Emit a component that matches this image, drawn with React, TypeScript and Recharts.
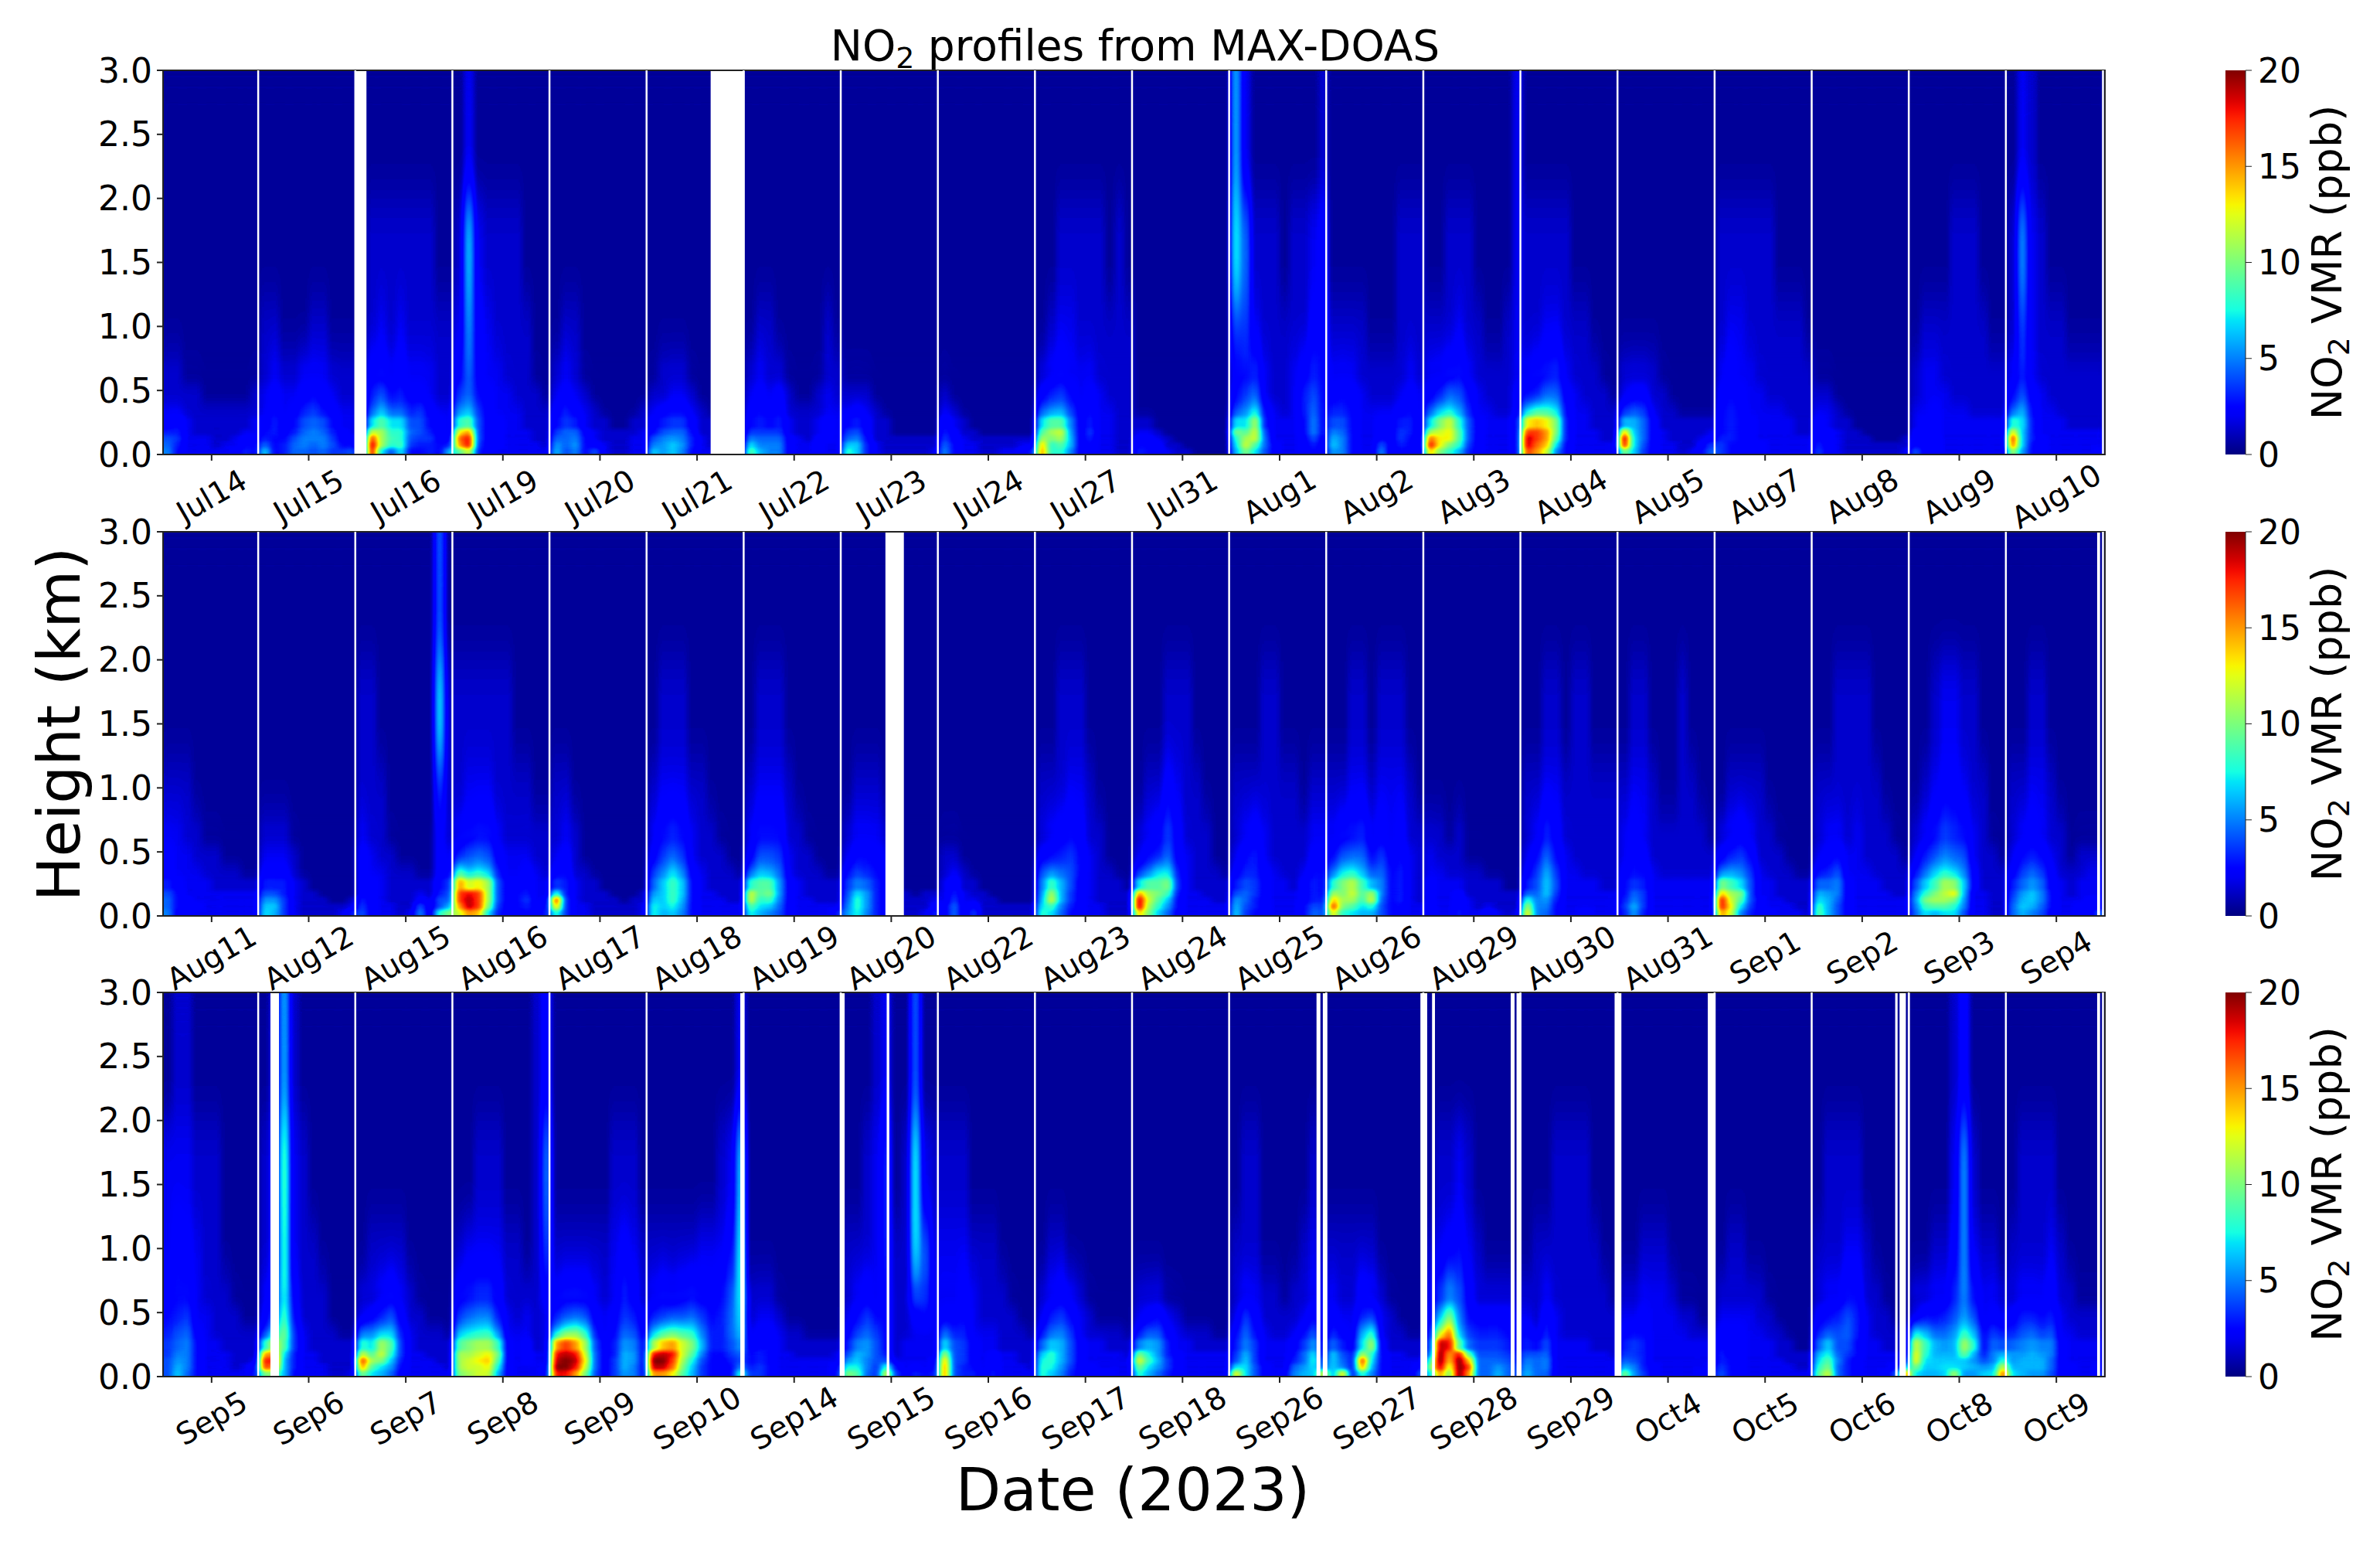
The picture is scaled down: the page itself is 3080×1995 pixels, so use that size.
import React from "react";
import {
  BarChart,
  Bar,
  Cell,
  ComposedChart,
  Line,
  XAxis,
  YAxis,
  ReferenceLine,
  ReferenceArea,
} from "recharts";

// Heat values are in half-ppb steps (40 = 20 ppb), 10 time columns per day.
// Rows run from the top height band down to the ground.
const bandEdges = [3, 2, 1.2, 0.8, 0.55, 0.4, 0.3, 0.2, 0.15, 0.1, 0.05, 0];
const q = [1, 1, 1, 1, 1, 1, 1, 1, 1, 1];

const jul14 = [q,q,q,[2,2,1,1,1,1,1,1,1,1],[2,2,2,2,1,1,1,1,1,2],[3,3,2,2,2,2,2,2,2,2],[4,5,3,2,2,2,2,2,2,3],[6,6,3,2,2,2,2,2,3,3],[8,7,3,3,3,2,2,3,4,4],[9,6,3,3,3,2,3,3,5,5],[10,5,3,3,3,3,3,4,6,5]];
const jul15 = [q,q,[2,2,1,1,1,2,2,1,1,1],[2,3,2,2,3,3,3,2,2,2],[3,4,3,3,4,5,4,3,2,2],[3,5,3,4,6,7,5,4,3,3],[4,6,4,5,8,9,8,5,3,3],[5,6,4,6,9,10,9,6,4,3],[6,5,5,8,10,10,10,7,4,4],[9,5,6,9,10,9,10,8,5,5],[13,5,6,9,9,8,9,7,7,8]];
const jul16 = [q,[1,2,2,2,2,2,2,2,1,1],[1,2,3,2,3,2,2,2,2,2],[1,4,4,3,4,3,3,3,2,2],[1,6,8,5,6,4,4,3,2,2],[1,8,12,8,8,6,7,4,3,3],[1,14,18,14,14,8,8,5,4,3],[1,24,22,16,16,9,8,6,4,3],[1,34,22,17,16,8,7,7,4,4],[1,38,22,16,17,7,6,6,5,6],[1,36,14,8,14,5,5,6,5,12]];
const jul19 = [[1,3,1,1,1,1,1,1,1,1],[2,12,3,2,2,2,2,1,1,1],[3,10,4,3,2,2,2,2,1,1],[4,9,4,3,3,2,2,2,1,1],[7,9,5,4,3,3,2,2,2,1],[10,12,7,4,3,3,3,2,2,2],[16,18,8,4,4,3,3,2,2,2],[26,30,8,4,4,3,3,3,2,2],[32,36,8,4,4,3,3,3,2,2],[30,36,7,4,4,3,3,3,3,2],[18,24,6,4,3,3,3,3,3,3]];
const jul20 = [q,q,[1,2,2,1,1,1,1,1,1,1],[2,3,2,1,1,1,1,1,1,1],[3,4,3,2,1,1,1,1,1,1],[4,6,4,3,2,1,1,1,1,2],[5,7,6,3,2,2,1,1,2,2],[7,9,9,4,3,2,2,2,2,3],[9,9,10,5,3,2,2,2,3,3],[11,9,11,5,4,3,2,2,3,3],[12,8,10,5,8,3,2,2,3,3]];
const jul21 = [q,q,q,[1,2,2,2,1,1,1,1,1,1],[2,2,3,3,2,1,1,1,1,1],[3,4,5,5,3,2,1,1,1,1],[4,6,7,7,4,2,2,1,1,1],[5,8,9,9,5,2,2,1,1,1],[8,10,11,10,6,3,2,1,1,1],[10,11,13,11,6,3,2,1,1,1],[13,11,13,10,5,3,3,1,1,1]];
const jul22 = [q,q,[1,2,2,1,1,1,1,1,2,1],[2,3,2,2,1,1,1,1,2,2],[3,4,3,4,2,1,1,2,3,2],[4,5,4,5,2,2,2,2,3,3],[5,6,5,6,3,2,2,3,4,3],[7,7,7,7,3,2,2,3,4,3],[10,9,9,9,4,3,2,4,4,3],[14,10,10,10,4,3,3,4,3,3],[18,12,10,10,4,3,3,4,3,3]];
const jul23 = [q,q,q,q,[2,2,2,1,1,1,1,1,1,1],[3,4,3,2,1,1,1,1,1,1],[5,6,4,2,2,1,1,1,1,1],[7,8,4,2,2,1,1,1,1,1],[9,10,5,2,2,2,2,2,2,2],[13,13,6,3,2,2,2,2,2,2],[16,13,6,3,2,2,2,2,2,3]];
const jul24 = [q,q,q,q,[2,1,1,1,1,1,1,1,1,1],[3,2,1,1,1,1,1,1,1,1],[5,3,2,1,1,1,1,1,1,1],[6,4,2,2,1,1,1,1,1,1],[7,4,3,2,2,2,2,2,2,2],[9,5,3,3,2,2,2,2,3,3],[10,5,3,3,2,2,3,3,4,6]];
const jul27 = [q,[1,1,2,2,2,2,2,1,2,1],[1,2,3,3,2,2,2,2,2,2],[2,3,4,3,3,3,2,2,2,2],[4,6,7,5,3,4,3,2,2,2],[8,10,11,7,4,5,3,3,2,2],[14,18,18,10,4,6,3,3,2,2],[18,22,24,11,4,7,3,3,2,2],[22,20,22,12,4,6,3,3,2,2],[28,16,18,12,4,5,3,3,2,2],[30,16,16,10,4,4,3,3,2,2]];
const jul31 = [q,q,q,q,q,q,[2,2,1,1,1,1,1,1,1,1],[3,3,2,1,1,1,1,1,1,1],[4,4,3,2,1,1,1,1,1,1],[5,5,4,2,2,1,1,1,1,1],[6,5,4,3,2,2,1,1,1,1]];
const aug1 = [[11,3,1,1,1,1,1,1,1,2],[14,9,2,2,2,1,2,2,3,4],[7,7,3,2,2,2,2,2,4,5],[4,5,6,3,2,2,3,4,6,5],[5,7,9,3,2,2,3,6,8,5],[7,10,14,5,3,2,3,6,9,5],[14,14,22,6,3,3,3,5,10,5],[20,18,24,8,3,3,3,5,10,5],[16,22,24,9,3,3,3,4,8,4],[14,24,18,9,4,3,3,4,6,4],[12,20,14,8,4,3,3,4,5,4]];
const aug2 = [q,[1,1,1,1,1,1,1,2,2,2],[2,2,2,2,1,1,1,2,2,2],[3,3,3,2,2,2,2,2,3,2],[4,5,4,3,2,2,2,3,4,3],[6,6,5,3,3,3,3,4,5,3],[8,8,5,3,3,4,4,6,6,3],[10,9,5,3,3,4,4,7,6,3],[12,10,5,3,3,5,4,7,5,3],[13,10,5,3,3,8,4,6,5,3],[11,10,5,3,3,10,3,5,4,3]];
const aug3 = [[1,1,1,1,1,1,1,1,1,3],[1,1,2,2,2,1,1,1,1,3],[2,2,2,3,2,2,1,1,2,3],[3,3,4,5,3,2,2,2,2,3],[4,6,9,8,5,3,2,2,2,4],[8,12,14,11,6,3,3,2,2,4],[14,20,24,16,8,4,3,3,3,6],[22,24,26,18,8,4,3,3,3,6],[32,26,26,18,8,4,3,3,3,6],[36,26,20,16,7,4,3,3,3,6],[28,20,16,12,6,4,3,3,3,6]];
const aug4 = [q,[2,2,2,2,2,1,1,1,1,1],[2,2,3,3,2,2,2,1,1,1],[3,4,5,6,3,2,2,2,1,1],[5,6,9,9,4,3,2,2,2,1],[12,16,16,14,5,3,3,2,2,2],[26,28,26,20,6,3,3,2,2,2],[34,34,30,20,6,3,3,3,2,2],[38,34,30,18,6,3,3,3,2,2],[38,32,28,14,5,3,3,3,3,3],[34,30,24,10,5,3,3,3,3,3]];
const aug5 = [q,q,q,[2,2,2,2,1,1,1,1,1,1],[3,4,4,2,2,1,1,1,1,1],[6,8,7,3,2,2,1,1,1,1],[12,12,9,4,2,2,2,2,2,2],[28,13,9,4,3,2,2,2,2,3],[38,14,9,4,3,2,2,2,3,4],[36,14,8,4,3,3,2,2,4,7],[20,13,7,4,3,3,2,3,5,9]];
const aug7 = [q,[2,2,2,2,2,2,1,1,1,1],[2,3,3,2,2,2,2,2,2,1],[3,4,3,3,2,2,2,2,2,2],[4,5,4,3,3,2,2,2,2,2],[5,6,5,3,3,3,3,2,2,2],[5,6,5,4,3,3,3,3,2,2],[5,6,5,4,3,3,3,3,2,2],[6,6,5,4,3,3,3,3,3,3],[7,5,5,4,4,3,3,3,3,3],[7,5,4,5,4,3,3,3,3,3]];
const aug8 = [q,q,q,q,[2,2,1,1,1,1,1,1,1,1],[3,3,2,1,1,1,1,1,1,1],[4,3,2,2,1,1,1,1,1,1],[5,4,3,2,2,1,1,1,1,1],[5,4,3,2,2,2,1,1,1,2],[6,4,3,2,2,2,2,2,2,2],[7,4,3,2,2,2,2,2,2,3]];
const aug9 = [q,[1,1,1,1,2,2,2,1,1,1],[1,2,2,2,2,2,2,2,1,1],[2,3,3,2,2,2,2,2,2,2],[2,3,3,3,2,2,2,2,2,2],[3,3,4,3,3,3,2,2,2,2],[3,4,4,3,3,3,3,3,3,3],[4,4,4,3,3,3,3,3,3,3],[4,4,5,3,3,3,3,3,3,3],[5,4,5,3,3,3,3,3,3,3],[8,4,5,3,3,3,3,3,3,3]];
const aug10 = [[1,3,2,1,1,1,1,1,1,1],[2,10,3,2,1,1,1,1,1,1],[2,7,3,2,2,2,1,1,1,1],[3,6,3,2,2,2,2,2,2,2],[5,8,4,3,2,2,2,2,2,2],[8,12,5,3,3,2,2,2,2,2],[16,14,6,3,3,3,2,2,2,2],[26,13,6,3,3,3,3,3,3,3],[34,13,6,4,3,3,3,3,3,3],[32,13,5,4,3,3,3,3,3,3],[22,11,5,4,3,3,3,3,3,4]];

const aug11 = [q,q,[2,2,2,1,1,1,1,1,1,1],[3,3,2,2,1,1,1,1,1,1],[4,3,3,2,2,2,1,1,1,1],[4,3,3,3,2,2,2,2,1,1],[6,4,3,3,3,2,2,2,2,2],[8,5,3,3,3,3,3,3,3,3],[9,5,4,3,3,3,3,3,3,3],[9,5,4,4,3,3,3,3,3,3],[10,4,5,3,3,3,3,3,3,3]];
const aug12 = [q,q,q,[2,2,2,1,1,1,1,1,1,1],[3,3,3,2,1,1,1,1,1,1],[4,4,4,2,1,1,1,1,1,1],[6,6,6,3,2,1,1,1,1,1],[8,8,6,3,2,2,1,1,1,1],[11,11,7,3,2,2,2,1,1,2],[13,13,7,3,2,2,2,2,2,3],[14,12,7,3,2,2,2,2,3,6]];
const aug15 = [[1,1,1,1,1,1,1,1,8,1],[2,2,1,1,1,1,1,1,13,2],[2,2,2,1,1,1,1,1,6,2],[3,2,2,1,1,1,1,1,4,2],[4,3,2,2,1,1,1,1,4,3],[4,3,3,2,2,2,1,1,4,4],[4,4,3,2,2,2,2,2,5,7],[4,4,3,2,2,2,3,2,6,8],[6,4,3,2,2,2,4,3,8,9],[7,4,3,3,2,2,8,3,8,12],[8,4,3,3,2,3,10,3,16,20]];
const aug16 = [q,[2,2,2,2,2,2,1,1,1,1],[2,3,3,3,2,2,2,2,1,1],[3,4,5,5,3,2,2,2,2,2],[6,8,9,8,4,3,3,3,2,2],[16,12,14,12,6,3,3,4,3,2],[30,24,26,22,8,4,4,5,3,3],[34,36,34,22,8,4,5,6,3,3],[34,38,34,22,8,4,5,7,3,4],[30,38,34,20,7,4,5,6,4,5],[24,30,28,14,6,4,4,5,4,6]];
const aug17 = [q,q,[2,2,1,1,1,1,1,1,1,1],[2,3,2,1,1,1,1,1,1,1],[3,4,2,1,1,1,1,1,1,1],[4,5,2,2,1,1,1,1,1,1],[7,6,3,2,2,1,1,1,1,1],[16,6,3,2,2,2,1,1,1,2],[34,7,3,2,2,2,2,1,2,2],[28,7,3,3,2,2,2,2,2,3],[16,7,3,3,2,2,2,2,2,3]];
const aug18 = [q,[1,2,2,2,1,1,1,1,1,1],[2,3,3,3,2,2,1,1,1,1],[3,5,6,5,3,2,2,1,1,1],[4,7,9,7,3,2,2,2,1,1],[7,10,14,10,4,3,2,2,2,1],[9,13,17,13,5,3,2,2,2,2],[11,13,17,13,5,3,3,2,2,2],[13,13,17,12,5,3,3,3,2,2],[15,13,15,11,5,3,3,3,3,3],[15,12,13,10,5,3,3,3,3,3]];
const aug19 = [q,[1,2,2,2,1,1,1,1,1,1],[2,3,3,3,2,1,1,1,1,1],[3,5,5,5,2,2,1,1,1,1],[4,8,8,7,3,2,2,1,1,1],[8,12,11,9,3,2,2,2,1,1],[16,18,18,11,4,3,2,2,2,2],[24,18,20,11,4,3,2,2,2,2],[24,16,17,10,4,3,3,2,2,2],[18,14,13,9,4,3,3,3,3,3],[15,12,10,8,4,3,3,3,3,6]];
const aug20 = [q,q,[1,2,2,2,1,1,1,1,1,1],[2,3,3,3,2,1,1,1,1,1],[3,5,5,4,3,1,1,1,1,1],[5,7,6,5,4,2,1,1,1,1],[7,10,9,6,4,2,1,1,1,1],[8,14,11,6,4,2,2,1,2,2],[9,16,11,6,4,3,2,2,2,3],[10,16,11,6,4,3,2,2,2,4],[11,15,10,6,4,3,2,2,3,6]];
const aug22 = [q,q,q,q,[2,2,1,1,1,1,1,1,1,1],[2,3,2,1,1,1,1,1,1,1],[3,5,2,2,1,1,1,1,1,1],[3,6,3,2,2,1,1,1,1,1],[3,7,3,3,2,2,1,1,1,1],[4,9,3,5,2,2,2,2,2,2],[4,9,3,7,2,2,2,2,2,2]];
const aug23 = [q,[1,1,2,2,2,1,1,1,1,1],[2,2,2,3,3,2,1,1,1,1],[2,3,4,5,4,2,2,1,1,1],[4,5,6,7,5,3,2,1,1,1],[8,10,9,8,5,3,2,2,1,1],[10,17,12,8,4,3,2,2,2,1],[11,22,12,7,4,3,2,2,2,2],[12,24,12,7,4,3,2,2,2,2],[14,17,10,6,4,3,3,2,2,2],[16,14,9,5,4,3,3,2,2,2]];
const aug24 = [q,[1,1,1,2,2,2,1,1,1,1],[1,2,2,4,3,2,2,1,1,1],[2,3,4,7,4,2,2,2,1,1],[3,5,6,9,4,3,2,2,1,1],[6,9,14,14,6,3,2,2,2,1],[14,18,18,20,7,3,2,2,2,2],[30,22,20,17,6,3,3,2,2,2],[38,24,18,13,5,3,3,3,2,2],[38,22,16,11,5,3,3,3,3,3],[28,20,13,9,4,3,3,3,3,3]];
const aug25 = [q,[1,1,1,2,2,1,1,1,1,1],[2,2,2,2,2,2,2,1,2,2],[2,3,4,3,2,2,2,2,3,3],[3,5,6,3,2,2,2,2,4,4],[4,6,6,4,3,2,2,3,5,5],[6,8,7,4,3,3,2,4,6,5],[8,9,7,4,3,3,3,4,6,5],[11,9,6,4,3,3,3,4,6,6],[12,8,6,4,3,3,3,5,8,7],[13,7,5,4,3,3,3,5,9,8]];
const aug26 = [q,[1,1,2,2,1,2,2,2,1,1],[2,2,3,3,2,3,3,3,2,1],[3,4,5,6,3,4,3,4,2,2],[5,8,9,9,5,7,4,5,3,2],[9,14,15,12,8,9,5,6,3,2],[16,20,23,17,12,10,5,6,3,2],[22,20,24,18,22,10,5,6,3,2],[28,22,22,17,24,9,5,6,3,2],[34,20,18,14,16,8,5,5,3,3],[26,16,14,12,12,8,5,5,3,3]];
const aug29 = [q,q,q,[2,2,1,2,1,1,1,1,1,1],[3,2,2,2,1,1,1,1,1,1],[3,3,2,2,2,2,1,1,1,1],[4,3,3,3,2,2,2,2,1,1],[4,3,3,4,2,2,2,2,2,2],[4,3,3,5,3,2,2,2,2,2],[4,3,3,5,3,2,3,2,2,2],[5,3,3,6,3,3,5,3,2,3]];
const aug30 = [q,[1,1,2,2,1,2,2,1,1,1],[2,2,3,3,2,2,2,2,2,2],[2,3,6,4,2,2,2,2,2,2],[3,5,9,5,3,2,2,2,2,2],[4,7,12,7,3,3,2,2,2,2],[6,8,13,8,3,3,3,3,2,2],[9,9,13,7,3,3,3,3,3,3],[16,10,11,6,3,3,3,3,3,3],[22,10,10,5,3,3,3,3,3,3],[26,10,9,5,3,3,5,3,3,3]];
const aug31 = [q,[1,2,2,1,1,1,2,1,1,1],[2,3,3,2,1,1,2,2,1,1],[3,4,3,2,2,2,2,2,2,1],[3,5,4,2,2,2,2,2,2,2],[4,5,5,3,2,2,2,2,2,2],[5,7,6,3,3,3,3,3,3,3],[5,9,7,3,3,3,3,3,3,3],[6,10,7,3,3,3,3,3,3,3],[7,12,7,3,3,3,3,3,3,3],[6,11,6,3,3,3,3,3,3,3]];
const sep1 = [q,q,[1,2,2,2,2,1,1,1,1,1],[2,3,4,3,2,2,1,1,1,1],[4,6,7,5,2,2,2,1,1,1],[9,11,10,7,3,2,2,2,1,1],[20,17,14,8,3,3,2,2,2,2],[28,22,20,8,3,3,2,2,2,2],[36,24,18,8,4,3,3,2,2,2],[36,26,14,7,4,3,3,3,2,2],[30,24,10,6,4,4,3,3,3,2]];
const sep2 = [q,[1,1,2,2,2,2,1,1,1,1],[2,2,2,2,2,2,2,1,1,1],[2,3,3,2,3,2,2,2,1,1],[3,4,5,3,3,2,2,2,2,1],[5,6,8,3,3,3,2,2,2,2],[9,9,10,4,3,3,3,2,2,2],[12,11,10,4,3,3,3,3,2,2],[14,12,9,4,3,3,3,3,3,3],[17,12,8,4,3,3,3,3,3,3],[18,12,8,4,3,3,3,3,3,3]];
const sep3 = [q,[1,1,2,3,3,2,2,1,1,1],[1,2,3,4,4,3,2,2,1,1],[2,3,5,7,6,5,3,2,1,1],[3,6,8,10,9,8,3,2,2,1],[5,9,13,15,13,10,4,2,2,2],[8,13,17,22,21,13,4,2,2,2],[10,16,20,23,26,12,3,3,2,2],[11,20,22,22,20,11,3,3,2,2],[10,17,18,18,16,10,3,3,2,2],[9,14,12,14,14,8,3,3,2,2]];
const sep4 = [q,[1,1,2,2,1,1,1,1,1,1],[2,2,3,3,2,1,1,1,1,1],[2,3,4,3,2,2,1,1,1,1],[3,5,6,5,3,2,1,2,2,2],[4,7,9,7,4,2,2,2,3,3],[6,9,11,9,4,3,2,3,3,3],[7,11,13,10,5,3,2,3,3,3],[8,12,13,10,5,3,3,3,4,4],[9,13,12,9,5,3,3,4,4,4],[9,12,10,8,4,3,3,5,4,8]];

const sep5 = [[1,2,2,1,1,1,1,1,1,1],[3,3,3,2,2,2,1,1,1,1],[3,5,4,3,2,2,1,1,1,1],[4,5,5,3,2,2,2,1,1,1],[5,6,7,3,3,2,2,2,1,1],[6,8,9,4,3,2,2,2,2,2],[7,9,10,5,3,3,2,2,2,2],[7,10,10,5,3,3,3,2,2,2],[8,11,10,5,3,3,3,2,2,3],[8,12,10,5,3,3,3,2,3,5],[8,13,9,5,3,3,3,3,3,6]];
const sep6 = [[1,3,11,2,1,1,1,1,1,1],[2,4,16,3,2,1,1,1,1,1],[2,4,15,3,2,2,1,1,1,1],[3,6,15,4,2,2,2,1,1,1],[4,8,17,5,2,2,2,1,1,1],[6,14,20,7,3,2,2,2,1,1],[16,24,18,7,3,2,2,2,2,2],[30,30,14,6,3,3,2,2,2,2],[36,34,12,6,3,3,2,2,2,2],[34,30,12,6,3,3,3,2,2,2],[20,20,12,5,3,3,3,2,2,3]];
const sep7 = [q,q,[1,2,2,2,2,1,1,1,1,1],[2,2,3,4,3,2,1,1,1,1],[3,4,6,8,4,2,2,1,1,1],[9,10,12,13,6,3,2,2,2,1],[16,14,22,18,7,3,2,2,2,2],[24,18,24,16,7,3,3,2,2,2],[34,22,20,13,6,3,3,3,2,2],[30,18,14,11,5,3,3,3,3,2],[20,14,12,9,4,3,3,3,3,3]];
const sep8 = [[1,1,1,1,1,1,1,1,2,4],[1,1,2,2,2,1,1,1,2,9],[2,3,3,3,3,2,2,1,2,7],[4,5,6,6,4,2,2,2,2,4],[7,9,10,10,6,3,2,3,2,3],[12,14,15,16,10,3,3,3,2,3],[18,20,22,22,17,4,3,4,2,3],[22,22,24,26,20,4,3,4,3,3],[22,24,26,28,18,4,3,4,3,3],[22,24,24,26,15,4,3,3,3,4],[20,22,24,24,12,4,3,3,3,5]];
const sep9 = [q,[1,1,1,1,1,1,2,2,2,1],[2,2,2,2,2,2,3,4,3,2],[3,4,4,4,3,2,3,6,4,2],[6,8,9,8,4,3,4,7,6,3],[12,18,20,16,6,3,5,9,8,4],[30,34,30,22,8,4,6,11,10,5],[36,38,36,24,9,4,6,12,11,5],[38,40,38,26,9,4,7,12,11,5],[40,40,36,24,9,4,7,12,10,5],[36,36,30,20,8,4,7,11,10,5]];
const sep10 = [[1,1,1,1,1,1,1,1,1,3],[1,1,1,1,1,1,1,2,3,12],[2,2,2,2,2,3,3,3,5,14],[3,4,3,4,5,4,4,5,8,15],[6,7,8,8,9,7,5,6,9,14],[12,16,18,17,16,10,6,6,9,13],[22,28,30,24,20,12,6,6,8,11],[36,38,36,24,18,10,5,5,7,9],[40,40,34,22,15,8,5,4,6,8],[38,38,32,20,13,7,5,4,5,10],[30,30,26,18,12,7,5,4,5,16]];
const sep14 = [q,q,q,[2,2,2,1,1,1,1,1,1,1],[2,3,3,2,1,1,1,1,1,1],[3,4,4,3,2,2,1,1,1,1],[4,5,5,3,2,2,2,2,2,2],[5,6,5,3,3,2,2,2,2,3],[5,6,5,3,3,3,3,3,3,3],[6,7,5,3,3,3,3,3,3,5],[7,7,5,3,3,3,3,3,3,6]];
const sep15 = [[1,1,1,2,3,1,1,8,1,1],[1,1,2,3,6,1,2,14,3,2],[2,2,2,3,6,2,2,14,9,3],[2,3,4,3,5,2,2,8,7,3],[3,5,7,5,5,2,2,4,5,3],[4,7,9,7,5,2,2,3,3,3],[6,10,11,8,5,2,3,3,3,3],[8,12,11,8,6,2,3,3,3,3],[11,13,10,8,8,3,3,3,3,4],[15,15,10,7,16,5,3,4,3,5],[20,18,9,7,24,7,4,6,5,6]];
const sep16 = [q,[2,2,2,1,1,1,1,1,1,1],[3,3,3,2,2,2,1,1,1,1],[3,3,4,3,2,2,2,1,1,1],[4,4,5,3,2,2,2,2,1,1],[9,6,6,3,3,3,2,2,2,1],[14,8,7,4,3,3,2,2,2,2],[22,8,7,4,3,4,3,3,2,2],[28,8,7,4,3,5,3,3,2,2],[30,8,6,5,3,5,3,3,3,2],[30,8,6,6,3,6,3,3,3,3]];
const sep17 = [q,q,[1,2,2,1,1,1,1,1,1,1],[2,3,4,3,2,1,1,1,1,1],[3,6,7,5,3,2,1,1,1,1],[5,9,10,7,3,2,2,2,2,1],[9,13,12,8,4,3,3,2,2,2],[13,16,12,8,4,3,3,3,3,2],[15,16,12,8,4,3,3,3,3,3],[16,15,11,7,4,4,3,3,3,3],[16,13,10,6,4,4,4,4,3,3]];
const sep18 = [q,q,q,[2,2,2,1,1,1,1,1,1,1],[3,4,5,3,2,1,1,1,1,1],[5,8,8,4,3,2,2,2,1,1],[10,12,11,6,3,3,2,2,2,2],[20,15,11,6,4,3,3,3,3,3],[25,17,12,7,4,3,3,3,3,3],[20,14,11,7,4,3,3,3,3,3],[16,12,9,6,4,3,3,3,3,3]];
const sep26 = [q,[1,2,2,1,1,1,1,1,2,1],[2,2,2,1,1,1,1,2,3,2],[2,3,3,2,2,1,2,2,3,3],[3,7,4,2,2,2,2,3,5,3],[5,9,5,3,2,2,3,5,8,3],[6,10,7,3,3,3,4,7,11,5],[7,12,7,3,3,3,5,9,14,5],[8,13,7,3,3,3,6,9,15,7],[14,14,8,4,3,3,9,11,14,9],[26,14,8,4,3,4,10,12,13,24]];
const sep27 = [q,q,[2,2,2,2,2,1,1,1,1,1],[3,2,2,4,3,2,1,1,1,1],[4,3,3,6,7,3,2,1,1,1],[6,4,3,12,16,3,2,2,1,1],[9,6,4,14,22,4,2,2,2,2],[13,8,6,22,16,5,3,3,2,2],[13,9,6,34,14,5,3,3,3,3],[13,10,6,30,12,5,3,3,3,5],[12,26,6,16,10,5,3,3,3,8]];
const sep28 = [q,[1,2,2,3,2,1,1,1,1,1],[2,3,4,5,3,2,1,1,1,1],[3,6,9,8,4,2,2,2,2,2],[4,12,20,10,5,4,4,4,4,3],[6,22,32,12,7,6,6,6,5,4],[8,38,36,18,9,7,7,7,6,5],[10,40,30,36,18,8,8,8,7,6],[16,40,28,40,28,9,9,9,8,6],[20,38,24,40,34,9,9,11,9,7],[14,30,20,40,30,9,9,12,9,8]];
const sep29 = [q,[1,1,1,2,2,2,2,1,1,1],[1,2,2,2,2,2,2,2,1,1],[2,2,3,2,2,2,2,2,2,1],[3,2,5,3,2,2,2,2,2,2],[5,3,6,3,2,2,2,2,2,2],[6,5,8,3,3,3,3,2,2,2],[8,8,9,3,3,3,3,3,3,2],[10,9,10,3,3,3,3,3,3,3],[11,9,10,3,3,3,3,3,3,3],[12,9,9,3,3,3,3,3,3,3]];
const oct4 = [q,q,[1,1,2,2,2,1,1,1,1,1],[2,2,3,3,3,2,1,1,1,1],[3,3,4,3,3,3,2,2,1,1],[4,5,5,3,3,3,3,2,2,2],[6,7,6,3,3,3,3,3,3,3],[7,7,6,3,3,3,3,3,3,3],[9,8,6,3,3,3,3,3,3,3],[12,10,6,4,3,3,3,3,3,4],[20,11,7,4,3,3,3,3,4,5]];
const oct5 = [q,q,[1,2,2,1,1,1,1,1,1,1],[2,2,2,2,2,1,1,1,1,1],[3,3,3,3,2,2,1,1,1,1],[4,4,4,3,3,2,2,1,1,1],[5,4,4,3,3,3,2,2,1,1],[6,4,4,3,3,3,2,2,2,2],[6,5,4,3,3,3,3,2,2,2],[7,5,4,3,3,3,3,3,2,2],[8,5,4,3,3,3,3,3,3,3]];
const oct6 = [q,[1,2,2,2,2,1,1,1,1,1],[2,2,2,3,3,2,1,1,1,1],[2,3,3,5,5,2,2,1,1,1],[4,5,6,8,6,3,2,2,1,1],[6,8,8,9,6,3,2,2,2,2],[9,13,8,8,5,3,3,2,2,2],[12,15,9,7,5,3,3,3,3,3],[14,18,10,6,4,3,3,3,3,5],[16,20,9,6,4,3,3,3,5,12],[18,24,9,6,4,3,3,4,8,30]];
const oct8 = [[1,1,1,1,2,4,1,1,1,1],[1,1,1,1,3,10,2,1,1,1],[1,1,2,2,4,10,3,2,2,1],[2,2,3,3,6,10,5,3,3,2],[3,5,5,6,8,11,8,3,4,3],[14,12,9,9,11,16,12,5,7,6],[24,17,12,11,12,22,16,5,9,8],[26,16,12,12,12,19,12,6,10,12],[26,14,13,13,13,13,11,8,10,16],[20,13,13,14,14,13,12,11,12,24],[14,12,12,13,22,11,11,13,14,32]];
const oct9 = [q,[1,2,2,2,2,1,1,1,1,1],[2,2,2,2,3,2,1,1,1,1],[2,3,3,3,4,2,2,1,1,1],[4,6,6,5,6,3,2,2,2,2],[6,8,9,7,8,3,3,2,2,2],[9,10,11,10,10,4,3,3,3,3],[11,11,12,11,10,4,3,3,3,3],[11,12,12,12,9,4,3,3,3,3],[12,12,12,12,9,4,4,3,3,4],[14,12,11,11,8,4,4,3,3,6]];

const topDays = [jul14, jul15, jul16, jul19, jul20, jul21, jul22, jul23, jul24, jul27, jul31, aug1, aug2, aug3, aug4, aug5, aug7, aug8, aug9, aug10];
const middleDays = [aug11, aug12, aug15, aug16, aug17, aug18, aug19, aug20, aug22, aug23, aug24, aug25, aug26, aug29, aug30, aug31, sep1, sep2, sep3, sep4];
const bottomDays = [sep5, sep6, sep7, sep8, sep9, sep10, sep14, sep15, sep16, sep17, sep18, sep26, sep27, sep28, sep29, oct4, oct5, oct6, oct8, oct9];

const topLabels = ["Jul14", "Jul15", "Jul16", "Jul19", "Jul20", "Jul21", "Jul22", "Jul23", "Jul24", "Jul27", "Jul31", "Aug1", "Aug2", "Aug3", "Aug4", "Aug5", "Aug7", "Aug8", "Aug9", "Aug10"];
const middleLabels = ["Aug11", "Aug12", "Aug15", "Aug16", "Aug17", "Aug18", "Aug19", "Aug20", "Aug22", "Aug23", "Aug24", "Aug25", "Aug26", "Aug29", "Aug30", "Aug31", "Sep1", "Sep2", "Sep3", "Sep4"];
const bottomLabels = ["Sep5", "Sep6", "Sep7", "Sep8", "Sep9", "Sep10", "Sep14", "Sep15", "Sep16", "Sep17", "Sep18", "Sep26", "Sep27", "Sep28", "Sep29", "Oct4", "Oct5", "Oct6", "Oct8", "Oct9"];

// missing measurements, in day units along the axis
const topGaps = [[1.975, 2.095], [5.64, 5.99]];
const middleGaps = [[7.44, 7.63], [19.92, 19.95]];
const bottomGaps = [[1.106, 1.194], [5.945, 5.985], [6.97, 7.02], [7.453, 7.48], [11.88, 11.92], [11.945, 11.99], [12.95, 13.02], [13.07, 13.1], [13.88, 13.92], [13.94, 13.99], [14.95, 15.02], [15.91, 15.99], [17.84, 17.865], [17.885, 17.95], [17.97, 17.99], [19.92, 19.95]];

const heightTicks = [0, 0.5, 1, 1.5, 2, 2.5, 3];
const vmrTicks = [0, 5, 10, 15, 20];
const colorbarRange = [{ name: "vmr", top: 20 }];

const FONT = "DejaVu Sans";
const PLOT_LEFT = 211;
const PLOT_W = 2513;
const PLOT_H = 497;
const COLS_PER_DAY = 10;

// matplotlib jet segments
const jetR = [[0, 0], [0.35, 0], [0.66, 1], [0.89, 1], [1, 0.5]];
const jetG = [[0, 0], [0.125, 0], [0.375, 1], [0.64, 1], [0.91, 0], [1, 0]];
const jetB = [[0, 0.5], [0.11, 1], [0.34, 1], [0.65, 0], [1, 0]];
// low end of the heat map, calibrated against the blues
const heatB = [[0, 0.5], [0.025, 0.61], [0.05, 0.8], [0.08, 1], [0.34, 1], [0.65, 0], [1, 0]];

const seg = (pts: number[][], t: number) => {
  for (let i = 1; i < pts.length; i++) {
    if (t <= pts[i][0]) {
      const [x0, y0] = pts[i - 1];
      const [x1, y1] = pts[i];
      return y0 + ((t - x0) / (x1 - x0)) * (y1 - y0);
    }
  }
  return pts[pts.length - 1][1];
};

const tableSteps = Array.from({ length: 129 }, (_, i) => i / 128);
const table = (pts: number[][]) => tableSteps.map((t) => seg(pts, t).toFixed(4)).join(" ");
const barStops = Array.from({ length: 41 }, (_, i) => i / 40);
const jetCss = (t: number) =>
  `rgb(${Math.round(seg(jetR, t) * 255)},${Math.round(seg(jetG, t) * 255)},${Math.round(seg(jetB, t) * 255)})`;

const gray = (units: number) => {
  const g = Math.round((units / 40) * 255);
  return `rgb(${g},${g},${g})`;
};

const bandCount = bandEdges.length - 1;

// The heat cells are drawn as stacked bars in grey, the filter smooths them and maps grey to jet
function HeatCells({ days }: { days: number[][][] }) {
  const rows = days.flatMap((day, d) =>
    Array.from({ length: COLS_PER_DAY }, (_, c) => {
      const row: any = { col: d * COLS_PER_DAY + c };
      for (let b = 0; b < bandCount; b++) row[`b${b}`] = bandEdges[b] - bandEdges[b + 1];
      return row;
    })
  );
  const bands = Array.from({ length: bandCount }, (_, i) => bandCount - 1 - i);
  return (
    <BarChart
      width={PLOT_W}
      height={PLOT_H}
      data={rows}
      margin={{ top: 0, right: 0, bottom: 0, left: 0 }}
      barCategoryGap={0}
      barGap={0}
    >
      <XAxis dataKey="col" type="category" hide />
      <YAxis type="number" domain={[0, 3]} hide />
      {bands.map((b) => (
        <Bar key={b} dataKey={`b${b}`} stackId="h" isAnimationActive={false}>
          {rows.map((r: any) => (
            <Cell
              key={r.col}
              fill={gray(days[Math.floor(r.col / COLS_PER_DAY)][b][r.col % COLS_PER_DAY])}
            />
          ))}
        </Bar>
      ))}
    </BarChart>
  );
}

const DateTick = ({ x, y, payload, labels }: any) => {
  const label = labels[Math.floor(payload.value)];
  return (
    <text
      transform={`translate(${x},${y + 44}) rotate(-30)`}
      textAnchor="middle"
      dominantBaseline="central"
      fontFamily={FONT}
      fontSize={39}
      fill="#000"
    >
      {label}
    </text>
  );
};

const fill = { position: "absolute", left: 0, top: 0, width: PLOT_W, height: PLOT_H } as const;

// Three copies at different vertical smoothing: the tall upper bands need far more than the thin ground ones
function HeatLayers({ days }: { days: number[][][] }) {
  const midMask = "linear-gradient(to bottom, transparent 365px, black 398px)";
  const nearMask = "linear-gradient(to bottom, transparent 440px, black 456px)";
  return (
    <div style={{ position: "absolute", left: PLOT_LEFT, top: 0, width: PLOT_W, height: PLOT_H }}>
      <div style={{ ...fill, filter: "url(#jetFar)" }}>
        <HeatCells days={days} />
      </div>
      <div style={{ ...fill, WebkitMaskImage: midMask, maskImage: midMask }}>
        <div style={{ ...fill, filter: "url(#jetMid)" }}>
          <HeatCells days={days} />
        </div>
      </div>
      <div style={{ ...fill, WebkitMaskImage: nearMask, maskImage: nearMask }}>
        <div style={{ ...fill, filter: "url(#jetNear)" }}>
          <HeatCells days={days} />
        </div>
      </div>
    </div>
  );
}

function Panel({ top, days, labels, gaps }: any) {
  const dayTicks = labels.map((_: string, i: number) => i + 0.5);
  const seps = labels.map((_: string, i: number) => i + 0.98);
  return (
    <>
      <div style={{ position: "absolute", left: 0, top, width: 10, height: PLOT_H }}>
        <HeatLayers days={days} />
      </div>
      <div style={{ position: "absolute", left: 0, top: top - 40 }}>
        <ComposedChart
          width={PLOT_LEFT + PLOT_W + 30}
          height={PLOT_H + 150}
          data={dayTicks.map((x: number) => ({ x, y: 0 }))}
          margin={{ top: 40, right: 30, bottom: 10, left: PLOT_LEFT - 90 }}
        >
          <XAxis
            dataKey="x"
            type="number"
            domain={[0, 20]}
            ticks={dayTicks}
            interval={0}
            height={100}
            tickSize={8}
            stroke="#222"
            strokeWidth={2}
            tick={<DateTick labels={labels} />}
          />
          <YAxis
            type="number"
            domain={[0, 3]}
            ticks={heightTicks}
            interval={0}
            width={90}
            tickSize={8}
            tickMargin={6}
            stroke="#222"
            strokeWidth={2}
            tickFormatter={(v: number) => v.toFixed(1)}
            tick={{ fontSize: 44, fontFamily: FONT, fill: "#000" }}
          />
          <Line dataKey="y" stroke="none" dot={false} isAnimationActive={false} />
          {seps.map((x: number) => (
            <ReferenceLine key={x} x={x} stroke="#fff" strokeWidth={2.5} />
          ))}
          {gaps.map((g: number[]) => (
            <ReferenceArea key={g[0]} x1={g[0]} x2={g[1]} fill="#fff" fillOpacity={1} stroke="none" />
          ))}
          <ReferenceArea x1={0} x2={20} y1={0} y2={3} fill="none" stroke="#222" strokeWidth={2} />
        </ComposedChart>
      </div>
      <div style={{ position: "absolute", left: 2881 - 1, top: top - 40 }}>
        <BarChart
          width={130}
          height={PLOT_H + 80}
          data={colorbarRange}
          margin={{ top: 40, right: 0, bottom: 40, left: 0 }}
          barCategoryGap={0}
        >
          <defs>
            <linearGradient id={`jetBar${top}`} x1="0" y1="1" x2="0" y2="0">
              {barStops.map((t) => (
                <stop key={t} offset={t} stopColor={jetCss(t)} />
              ))}
            </linearGradient>
          </defs>
          <XAxis dataKey="name" type="category" hide />
          <YAxis
            orientation="right"
            type="number"
            domain={[0, 20]}
            ticks={vmrTicks}
            interval={0}
            width={104}
            tickSize={8}
            tickMargin={8}
            stroke="#222"
            tickFormatter={(v: number) => String(v)}
            tick={{ fontSize: 44, fontFamily: FONT, fill: "#000", textAnchor: "start" }}
          />
          <Bar dataKey="top" fill={`url(#jetBar${top})`} isAnimationActive={false} />
        </BarChart>
      </div>
    </>
  );
}

const vmrCenters = [339.5, 936.5, 1532];

const JetFilter = ({ id, deviation }: { id: string; deviation: string }) => (
  <filter id={id} x="0" y="0" width="1" height="1" colorInterpolationFilters="sRGB">
    <feGaussianBlur stdDeviation={deviation} />
    <feComponentTransfer>
      <feFuncR type="table" tableValues={table(jetR)} />
      <feFuncG type="table" tableValues={table(jetG)} />
      <feFuncB type="table" tableValues={table(heatB)} />
      <feFuncA type="discrete" tableValues="1 1" />
    </feComponentTransfer>
  </filter>
);

export default function App() {
  return (
    <div style={{ position: "absolute", left: 0, top: 0, width: 3080, height: 1995, background: "#fff", overflow: "hidden" }}>
      <svg width={0} height={0} style={{ position: "absolute" }}>
        <JetFilter id="jetNear" deviation="4 2.5" />
        <JetFilter id="jetMid" deviation="4 9" />
        <JetFilter id="jetFar" deviation="3 32" />
      </svg>
      <Panel top={91} days={topDays} labels={topLabels} gaps={topGaps} />
      <Panel top={688} days={middleDays} labels={middleLabels} gaps={middleGaps} />
      <Panel top={1284} days={bottomDays} labels={bottomLabels} gaps={bottomGaps} />
      <svg width={3080} height={1995} style={{ position: "absolute", left: 0, top: 0, pointerEvents: "none" }} fontFamily={FONT} fill="#000">
        <text x={1469} y={78} fontSize={55} textAnchor="middle">
          NO<tspan fontSize={38} dy={10}>2</tspan><tspan dy={-10}> profiles from MAX-DOAS</tspan>
        </text>
        <text x={1466} y={1954} fontSize={76} textAnchor="middle">Date (2023)</text>
        <text transform="translate(103,937) rotate(-90)" fontSize={77} textAnchor="middle">Height (km)</text>
        {vmrCenters.map((c) => (
          <text key={c} transform={`translate(3030,${c}) rotate(-90)`} fontSize={54} textAnchor="middle">
            NO<tspan fontSize={38} dy={10}>2</tspan><tspan dy={-10}> VMR (ppb)</tspan>
          </text>
        ))}
      </svg>
    </div>
  );
}
